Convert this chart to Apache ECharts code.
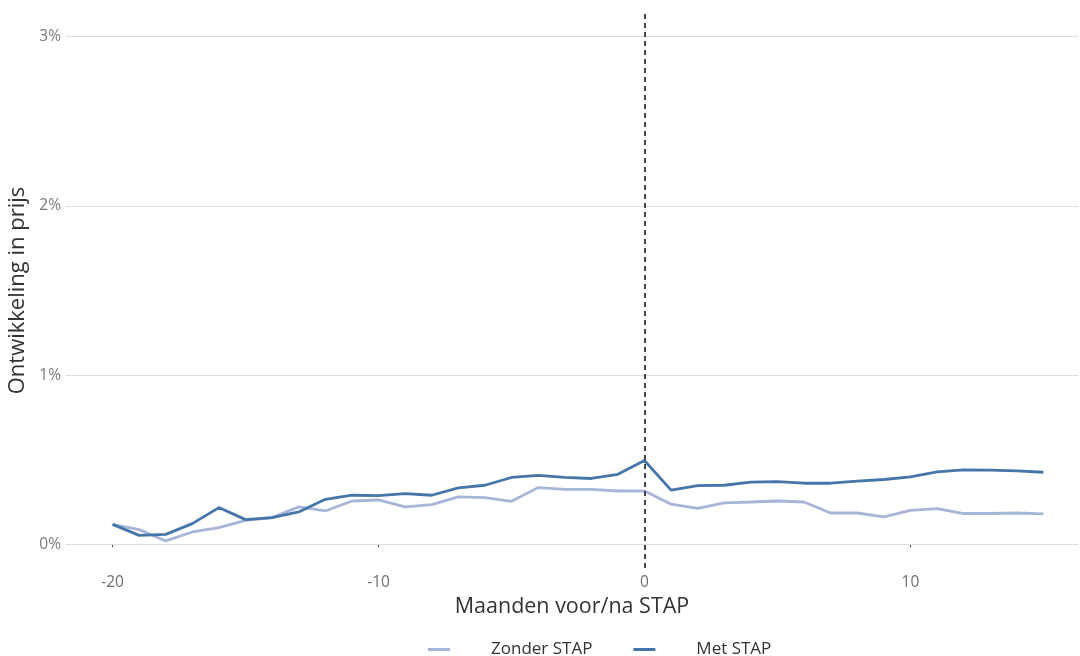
<!DOCTYPE html>
<html>
<head>
<meta charset="utf-8">
<script src="https://cdn.jsdelivr.net/npm/echarts@6/dist/echarts.min.js"></script>
<style>html,body{margin:0;padding:0;background:#fff}#c{width:1080px;height:656px}</style>
</head>
<body>
<div id="c"></div>
<script>
const months = [-20,-19,-18,-17,-16,-15,-14,-13,-12,-11,-10,-9,-8,-7,-6,-5,-4,-3,-2,-1,0,1,2,3,4,5,6,7,8,9,10,11,12,13,14,15];
const zonderStap = [0.118,0.087,0.020,0.073,0.099,0.142,0.158,0.221,0.197,0.256,0.262,0.221,0.235,0.280,0.276,0.254,0.335,0.325,0.325,0.315,0.315,0.237,0.213,0.245,0.250,0.256,0.250,0.185,0.185,0.162,0.201,0.211,0.182,0.182,0.185,0.180];
const metStap = [0.118,0.053,0.059,0.122,0.217,0.146,0.158,0.191,0.266,0.290,0.288,0.300,0.290,0.333,0.349,0.395,0.408,0.395,0.389,0.414,0.495,0.320,0.347,0.349,0.367,0.371,0.361,0.361,0.373,0.383,0.398,0.428,0.440,0.438,0.434,0.426];
const yTicks = [0,1,2,3];
const xTicks = [-20,-10,0,10];
const seriesNames = ['Zonder STAP','Met STAP'];

const font = 'Open Sans';
const chart = echarts.init(document.getElementById('c'), null, {renderer:'canvas'});
chart.setOption({
  animation:false,
  backgroundColor:'#fff',
  textStyle:{fontFamily:font},
  grid:{left:66,right:2,top:13,bottom:88,containLabel:false,outerBoundsMode:'none'},
  legend:{
    bottom:-7, left:423,
    data:seriesNames,
    icon:'rect', itemWidth:22, itemHeight:3, itemGap:41,
    textStyle:{fontFamily:font,fontSize:17,color:'#333',padding:[0,0,0,36]}
  },
  xAxis:{
    type:'value', min:-21.75, max:16.3,
    name:'Maanden voor/na STAP', nameLocation:'middle', nameGap:27,
    nameTextStyle:{fontFamily:font,fontSize:21.5,color:'#333'},
    axisLine:{show:false},
    axisTick:{show:true,length:3,customValues:xTicks,lineStyle:{color:'#555',width:1}},
    axisLabel:{customValues:xTicks,fontFamily:font,fontSize:15.5,color:'#6e6e6e',margin:7,formatter:v=>String(v)},
    splitLine:{show:false}
  },
  yAxis:{
    type:'value', min:-0.14, max:3.14,
    name:'Ontwikkeling in prijs', nameLocation:'middle', nameGap:36,
    nameTextStyle:{fontFamily:font,fontSize:22,color:'#333'},
    axisLine:{show:false},
    axisTick:{show:true,length:3,customValues:yTicks,lineStyle:{color:'#555',width:1}},
    axisLabel:{customValues:yTicks,fontFamily:font,fontSize:15.5,color:'#7a7a7a',margin:5,formatter:v=>v+'%'},
    splitLine:{show:false}
  },
  series:[
    {
      name:seriesNames[0], type:'line', showSymbol:false, symbol:'none',
      data:months.map((m,i)=>[m,zonderStap[i]]),
      lineStyle:{color:'#a7b5d8',width:2.8}, itemStyle:{color:'#a7b5d8'},
      z:3,
      markLine:{
        silent:true, symbol:'none', label:{show:false}, z:1,
        lineStyle:{color:'#dcdcdc',width:1,type:'solid'},
        data:yTicks.map(v=>({yAxis:v}))
      }
    },
    {
      name:seriesNames[1], type:'line', showSymbol:false, symbol:'none',
      data:months.map((m,i)=>[m,metStap[i]]),
      lineStyle:{color:'#4676a9',width:2.8}, itemStyle:{color:'#4676a9'},
      z:4,
      markLine:{
        silent:true, symbol:'none', label:{show:false},
        lineStyle:{color:'#333',width:1.8,type:[5,4]},
        data:[{xAxis:0}]
      }
    }
  ]
});
</script>
</body>
</html>
